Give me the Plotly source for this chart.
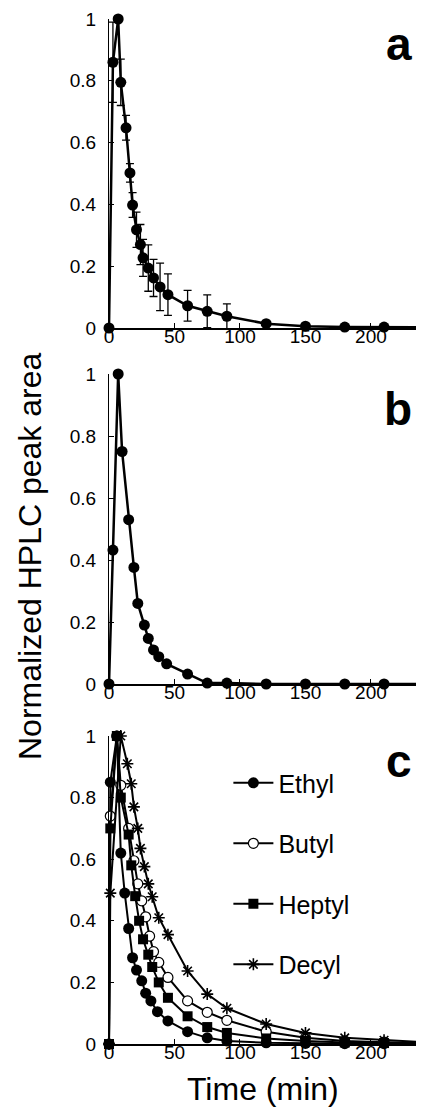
import plotly.graph_objects as go

# ---------------- data ----------------
# panel a (mean with error bars)
time_a = [0, 3, 7, 9, 13, 16, 18, 21, 24, 26, 30, 34, 39, 45, 60, 75, 90, 120, 150, 180, 210, 240]
area_a = [0, 0.86, 1.0, 0.795, 0.648, 0.502, 0.398, 0.318, 0.27, 0.227, 0.194, 0.162, 0.133, 0.108,
          0.072, 0.054, 0.038, 0.014, 0.006, 0.003, 0.003, 0.002]
err_a = [0, 0.13, 0, 0.075, 0.04, 0.03, 0.04, 0.057, 0.065, 0.06, 0.075, 0.06, 0.077, 0.067,
         0.05, 0.053, 0.04, 0.005, 0.004, 0, 0, 0]

# panel b
time_b = [0, 3, 7, 10, 15, 19, 22, 27, 30, 34, 38, 44, 60, 75, 90, 120, 150, 180, 210, 240]
area_b = [0, 0.432, 1.0, 0.75, 0.53, 0.376, 0.26, 0.19, 0.147, 0.11, 0.088, 0.065, 0.032,
          0.003, 0.003, 0.0, 0.0, 0.0, 0.0, 0.0]

# panel c
time_ethyl = [0, 1, 6, 9, 12, 15, 18, 21, 25, 28, 32, 37, 45, 60, 75, 90, 120, 150, 180, 210, 240]
ethyl = [0, 0.85, 1.0, 0.62, 0.49, 0.375, 0.28, 0.24, 0.205, 0.165, 0.14, 0.105, 0.075, 0.04,
         0.02, 0.01, 0.004, 0.002, 0.001, 0.001, 0.0]
time_butyl = [0, 1, 6, 9, 15, 19, 22, 25, 28, 31, 34, 38, 45, 60, 75, 90, 120, 150, 180, 210, 240]
butyl = [0, 0.74, 1.0, 0.84, 0.70, 0.595, 0.52, 0.465, 0.413, 0.35, 0.30, 0.265, 0.216, 0.14,
         0.103, 0.077, 0.04, 0.02, 0.01, 0.006, 0.004]
time_heptyl = [0, 1, 6, 9, 15, 17, 20, 23, 26, 30, 33, 38, 45, 60, 75, 90, 120, 150, 180, 210, 240]
heptyl = [0, 0.70, 1.0, 0.80, 0.68, 0.58, 0.48, 0.40, 0.34, 0.29, 0.25, 0.20, 0.15, 0.09,
          0.055, 0.036, 0.018, 0.01, 0.005, 0.003, 0.002]
time_decyl = [0, 1, 9, 14, 17, 19, 22, 24, 27, 30, 33, 38, 45, 60, 75, 90, 120, 150, 180, 210, 240]
decyl = [0, 0.49, 1.0, 0.91, 0.845, 0.77, 0.70, 0.635, 0.576, 0.52, 0.478, 0.41, 0.355, 0.237,
         0.162, 0.116, 0.065, 0.036, 0.02, 0.012, 0.006]

y_tickvals = [0, 0.2, 0.4, 0.6, 0.8, 1]
y_ticktext = ["0", "0.2", "0.4", "0.6", "0.8", "1"]
x_tickvals = [0, 50, 100, 150, 200]
x_ticktext = ["0", "50", "100", "150", "200"]
panel_letters = ["a", "b", "c"]
legend_names = ["Ethyl", "Butyl", "Heptyl", "Decyl"]

# ---------------- figure ----------------
FONT = "Liberation Sans, Arial, sans-serif"
fig = go.Figure()
LW = 2.5

fig.add_trace(go.Scatter(
    x=time_a, y=area_a, mode="lines+markers", xaxis="x", yaxis="y",
    line=dict(color="black", width=LW),
    marker=dict(symbol="circle", size=11, color="black"),
    error_y=dict(type="data", array=err_a, visible=True, color="black", thickness=1.3, width=4),
    showlegend=False, cliponaxis=False))

fig.add_trace(go.Scatter(
    x=time_b, y=area_b, mode="lines+markers", xaxis="x2", yaxis="y2",
    line=dict(color="black", width=LW),
    marker=dict(symbol="circle", size=11, color="black"),
    showlegend=False, cliponaxis=False))

series_c = [
    (time_ethyl, ethyl, dict(symbol="circle", size=11, color="black")),
    (time_butyl, butyl, dict(symbol="circle", size=10, color="white", line=dict(color="black", width=1.2))),
    (time_heptyl, heptyl, dict(symbol="square", size=10, color="black")),
    (time_decyl, decyl, dict(symbol="asterisk-open", size=10, color="black", line=dict(color="black", width=1.6))),
]
for name, (tx, ty, mk) in zip(legend_names, series_c):
    fig.add_trace(go.Scatter(
        x=tx, y=ty, mode="lines+markers", xaxis="x3", yaxis="y3", name=name,
        legendgroup=name,
        line=dict(color="black", width=LW - 0.5), marker=mk, cliponaxis=False))

# page has an 8px body margin: figure pixel = page pixel - 8
OFF = 8
W, H = 424 - OFF, 1112 - OFF
left = 109 - OFF
top = 19 - OFF
plot_bottom = 1044 - OFF
bot = H - plot_bottom
plot_h = H - top - bot
plot_w = W - left


def dom(py_top, py_bot):
    # page pixel coordinates -> paper fraction
    return [(plot_bottom - (py_bot - OFF)) / plot_h, (plot_bottom - (py_top - OFF)) / plot_h]


xaxis_common = dict(range=[0, 240.5], showline=True, linecolor="black", linewidth=2,
                    ticks="inside", ticklen=5, tickwidth=1, tickcolor="black",
                    tickvals=x_tickvals, ticktext=x_ticktext, showgrid=False, zeroline=False,
                    tickfont=dict(family=FONT, size=19, color="black"), ticklabelstandoff=-10)
yaxis_common = dict(range=[0, 1], showline=True, linecolor="black", linewidth=1,
                    ticks="inside", ticklen=5, tickwidth=1, tickcolor="black",
                    tickvals=y_tickvals, ticktext=y_ticktext, showgrid=False, zeroline=False,
                    tickfont=dict(family=FONT, size=19, color="black"), ticklabelstandoff=8)

fig.update_layout(
    width=W, height=H,
    margin=dict(l=left, r=0, t=top, b=bot),
    paper_bgcolor="white", plot_bgcolor="white",
    font=dict(family=FONT, color="black"),
    xaxis=dict(domain=[0, 1], anchor="y", **xaxis_common),
    yaxis=dict(domain=dom(19, 328), anchor="x", **yaxis_common),
    xaxis2=dict(domain=[0, 1], anchor="y2", **xaxis_common),
    yaxis2=dict(domain=dom(374, 684), anchor="x2", **yaxis_common),
    xaxis3=dict(domain=[0, 1], anchor="y3", **xaxis_common),
    yaxis3=dict(domain=dom(736, 1044), anchor="x3", **yaxis_common),
    legend=dict(x=0.379, y=0.277, xanchor="left", yanchor="top",
                font=dict(family=FONT, size=25, color="black"),
                tracegroupgap=25, bgcolor="rgba(0,0,0,0)", itemwidth=40),
    showlegend=True,
)

letter_pos = [("x", "y", 0.919), ("x2", "y2", 0.887), ("x3", "y3", 0.919)]
for letter, (xr, yr, yy) in zip(panel_letters, letter_pos):
    fig.add_annotation(text=letter, xref=xr + " domain", yref=yr, x=0.968, y=yy,
                       xanchor="right", yanchor="middle", showarrow=False,
                       font=dict(family=FONT, size=46, color="black", weight="bold"))

fig.add_annotation(text="Normalized HPLC peak area", xref="paper", yref="paper",
                   x=(30 - 109) / plot_w, y=(1044 - 556) / plot_h, textangle=-90,
                   xanchor="center", yanchor="middle", showarrow=False,
                   font=dict(family=FONT, size=32, color="black"))
fig.add_annotation(text="Time (min)", xref="paper", yref="paper",
                   x=(263 - 109) / plot_w, y=(1044 - 1089) / plot_h,
                   xanchor="center", yanchor="middle", showarrow=False,
                   font=dict(family=FONT, size=32, color="black"))

fig.write_html("out.html", post_script="document.body.style.overflow='hidden';")
